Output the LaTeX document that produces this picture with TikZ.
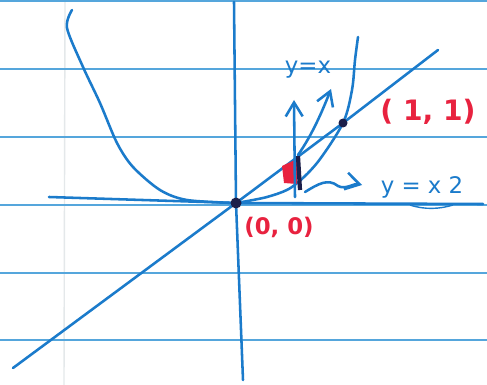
\documentclass[tikz,border=0pt]{standalone}
\usepackage{fontspec}
\setmainfont{DejaVu Sans}
\usepackage{tikz}
\usetikzlibrary{positioning,arrows.meta,calc}
\definecolor{ink}  {HTML}{1B7BCB}
\definecolor{ruled}{HTML}{55A6DC}
\definecolor{redink}{HTML}{E8223F}
\definecolor{margin}{HTML}{E4E8EA}
\definecolor{dark} {HTML}{1C1F4A}

\begin{document}
\begin{tikzpicture}[x=0.02cm,y=-0.02cm,
  ruling/.style={draw=ruled,line width=0.9pt},
  curve/.style={draw=ink,line width=1.45pt,line cap=round,line join=round},
  pointer/.style={curve,-{Straight Barb[length=2.8mm,width=3.4mm]}},
  lbl/.style={color=ink,font=\fontsize{13}{15}\selectfont,inner sep=0pt},
  pt/.style={color=redink,font=\bfseries\fontsize{13}{15}\selectfont,inner sep=0pt},
  dot/.style={circle,fill=dark,inner sep=0pt,minimum size=2.2mm}]

\useasboundingbox (0,0) rectangle (487,385);
\fill[white] (0,0) rectangle (487,385);

% paper
\draw[margin,line width=0.8pt] (65,0) -- (64,385);
\foreach \yy in {1,69,137,205,273,340}
  \draw[ruling] (0,\yy) -- (487,\yy);

\coordinate (O)  at (236,203);
\coordinate (P)  at (343,123);
\coordinate (xl) at (49,197);
\coordinate (xr) at (483,204);
\coordinate (yt) at (234,2);
\coordinate (yb) at (243,380);
\coordinate (dl) at (13,368);
\coordinate (dr) at (438,50);

% axes
\draw[curve] (xl) -- (O) -- (xr);
\draw[curve] (yt) -- (O) -- (yb);
\draw[ink,line width=0.8pt] (410,205) .. controls (425,210) and (440,209) .. (453,205);

% y = x
\draw[curve] (dl) -- (O) -- (P) -- (dr);

% y = x^2
\draw[curve] plot[smooth] coordinates {(72,10) (67,28) (83,67) (100,103) (117,143)
  (133,167) (160,190) (187,200) (236,203)};
\draw[curve] plot[smooth] coordinates {(236,203) (267,197) (292,187) (317,163)
  (343,123) (352,90) (355,60) (358,37)};

% strip
\fill[redink] (282,166) -- (297,159) -- (297,184) -- (284,183) -- cycle;
\draw[dark,line width=2.4pt] (298,156) -- (300,190);

\node[dot] (o) at (O) {};
\node[dot,minimum size=1.8mm] (p) at (P) {};

\coordinate (s1) at (295,197);
\coordinate (s2) at (294,100);
\coordinate (c1) at (298,155);
\coordinate (c2) at (331,89);
\coordinate (w1) at (305,192);
\coordinate (w2) at (362,185);

\draw[pointer] (s1) -- (s2);
\draw[pointer] (c1) .. controls (312,135) and (322,112) .. (c2);
\draw[pointer] (w1) .. controls (318,184) and (328,178) .. (338,186)
  .. controls (346,190) and (354,183) .. (w2);

\node[lbl] (lx)  at (308,70)  {y=x};
\node[lbl] (lx2) at (422,187) {y = x 2};
\node[pt,font=\bfseries\fontsize{16}{18}\selectfont] (l11) at (428,112) {( 1, 1)};
\node[pt] (l00) at (279,227) {(0, 0)};
\end{tikzpicture}
\end{document}
